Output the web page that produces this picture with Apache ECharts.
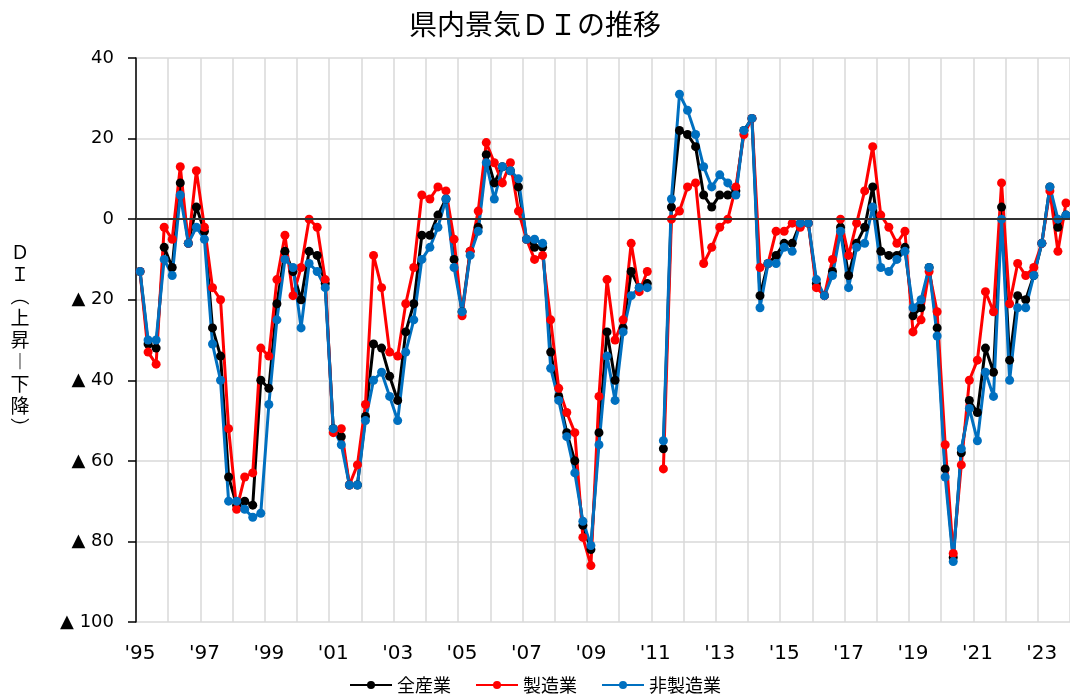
<!DOCTYPE html>
<html>
<head>
<meta charset="utf-8">
<title>県内景気ＤＩの推移</title>
<script src="https://cdn.jsdelivr.net/npm/echarts@6/dist/echarts.min.js"></script>
<style>
  html, body { margin: 0; padding: 0; background: #fff; }
  #chart { width: 1070px; height: 695px; }
</style>
</head>
<body>
<div id="chart"></div>
<script>
// 四半期ごと（1995年1-3月期〜2023年10-12月期）、2011年1-3月期は欠測
const years = [1995, 1996, 1997, 1998, 1999, 2000, 2001, 2002, 2003, 2004,
  2005, 2006, 2007, 2008, 2009, 2010, 2011, 2012, 2013, 2014,
  2015, 2016, 2017, 2018, 2019, 2020, 2021, 2022, 2023];
const quarters = ['Q1', 'Q2', 'Q3', 'Q4'];
const categories = [];
years.forEach(y => quarters.forEach(q => categories.push(y + q)));

const yTicks = [-100, -80, -60, -40, -20, 0, 20, 40];

// 全産業
const allIndustries = [
  -13, -31, -32, -7,   -12, 9, -6, 3,     -3, -27, -34, -64,   -71, -70, -71, -40,
  -42, -21, -8, -13,   -20, -8, -9, -16,  -52, -54, -66, -66,  -49, -31, -32, -39,
  -45, -28, -21, -4,   -4, 1, 5, -10,     -23, -8, -2, 16,     9, 13, 12, 8,
  -5, -7, -7, -33,     -44, -53, -60, -76, -82, -53, -28, -40,  -27, -13, -17, -16,
  null, -57, 3, 22,    21, 18, 6, 3,      6, 6, 7, 22,         25, -19, -11, -9,
  -6, -6, -1, -1,      -16, -19, -13, -2, -14, -6, -2, 8,      -8, -9, -9, -7,
  -24, -22, -12, -27,  -62, -84, -58, -45, -48, -32, -38, 3,    -35, -19, -20, -14,
  -6, 8, -2, 1
];
// 製造業
const manufacturing = [
  -13, -33, -36, -2,   -5, 13, -6, 12,    -2, -17, -20, -52,   -72, -64, -63, -32,
  -34, -15, -4, -19,   -12, 0, -2, -15,   -53, -52, -66, -61,  -46, -9, -17, -33,
  -34, -21, -12, 6,    5, 8, 7, -5,       -24, -8, 2, 19,      14, 9, 14, 2,
  -5, -10, -9, -25,    -42, -48, -53, -79, -86, -44, -15, -30,  -25, -6, -18, -13,
  null, -62, 0, 2,     8, 9, -11, -7,     -2, 0, 8, 21,        25, -12, -11, -3,
  -3, -1, -2, -1,      -17, -19, -10, 0,  -9, -1, 7, 18,       1, -2, -6, -3,
  -28, -25, -13, -23,  -56, -83, -61, -40, -35, -18, -23, 9,    -21, -11, -14, -12,
  -6, 7, -8, 4
];
// 非製造業
const nonManufacturing = [
  -13, -30, -30, -10,  -14, 6, -6, -2,    -5, -31, -40, -70,   -70, -72, -74, -73,
  -46, -25, -10, -12,  -27, -11, -13, -17, -52, -56, -66, -66, -50, -40, -38, -44,
  -50, -33, -25, -10,  -7, -2, 5, -12,    -23, -9, -3, 14,     5, 13, 12, 10,
  -5, -5, -6, -37,     -45, -54, -63, -75, -81, -56, -34, -45,  -28, -19, -17, -17,
  null, -55, 5, 31,    27, 21, 13, 8,     11, 9, 6, 22,        25, -22, -11, -11,
  -7, -8, -1, -1,      -15, -19, -14, -3, -17, -7, -6, 3,      -12, -13, -10, -8,
  -22, -20, -12, -29,  -64, -85, -57, -47, -55, -38, -44, 0,    -40, -22, -22, -14,
  -6, 8, 0, 1
];

const chart = echarts.init(document.getElementById('chart'));

const labelFont = 'Verdana, "DejaVu Sans", sans-serif';
const jpFont = '"Noto Sans CJK JP", sans-serif';

function lineSeries(name, data, color) {
  return {
    name: name,
    type: 'line',
    data: data,
    symbol: 'circle',
    symbolSize: 9,
    showSymbol: true,
    showAllSymbol: true,
    connectNulls: false,
    lineStyle: { color: color, width: 3 },
    itemStyle: { color: color },
    emphasis: { disabled: true }
  };
}

const series = [
  lineSeries('全産業', allIndustries, '#000000'),
  lineSeries('製造業', manufacturing, '#FF0000'),
  lineSeries('非製造業', nonManufacturing, '#0070C0')
];
// 0 の基準線
series[0].markLine = {
  silent: true,
  symbol: 'none',
  label: { show: false },
  lineStyle: { color: '#333333', width: 2, type: 'solid' },
  data: [{ yAxis: 0 }]
};

chart.setOption({
  animation: false,
  title: {
    text: '県内景気ＤＩの推移',
    left: 'center',
    top: 5,
    textStyle: { fontFamily: jpFont, fontSize: 28, fontWeight: 'normal', color: '#000' }
  },
  legend: {
    bottom: -4,
    left: 'center',
    itemWidth: 42,
    itemHeight: 10,
    itemGap: 24,
    textStyle: { fontFamily: jpFont, fontSize: 18, color: '#000' },
    data: ['全産業', '製造業', '非製造業']
  },
  grid: { left: 136, right: -2, top: 58, bottom: 73 },
  xAxis: {
    type: 'category',
    data: categories,
    boundaryGap: true,
    axisLine: { lineStyle: { color: '#d9d9d9', width: 1 } },
    axisTick: { show: false },
    axisLabel: {
      interval: (i) => i % 8 === 0,
      formatter: (v) => "'" + v.slice(2, 4),
      margin: 22,
      fontFamily: labelFont,
      fontSize: 20,
      color: '#000'
    },
    splitLine: {
      show: true,
      interval: (i) => i % 4 === 0,
      lineStyle: { color: '#d9d9d9', width: 1.5 }
    }
  },
  yAxis: {
    type: 'value',
    min: yTicks[0],
    max: yTicks[yTicks.length - 1],
    interval: 20,
    name: 'Ｄ\nＩ\n︵\n上\n昇\n︱\n下\n降\n︶',
    nameLocation: 'middle',
    nameRotate: 0,
    nameGap: 116,
    nameTextStyle: { fontFamily: jpFont, fontSize: 19, lineHeight: 22, align: 'center', color: '#000' },
    axisLine: { show: true, lineStyle: { color: '#000', width: 1.5 } },
    axisTick: { show: true, inside: false, length: 8, lineStyle: { color: '#000', width: 1.5 } },
    axisLabel: {
      margin: 22,
      fontFamily: labelFont,
      fontSize: 18,
      color: '#000',
      formatter: (v) => v < 0 ? '▲ ' + (-v) : String(v)
    },
    splitLine: { show: true, lineStyle: { color: '#d9d9d9', width: 1.5 } }
  },
  series: series
});
</script>
</body>
</html>
